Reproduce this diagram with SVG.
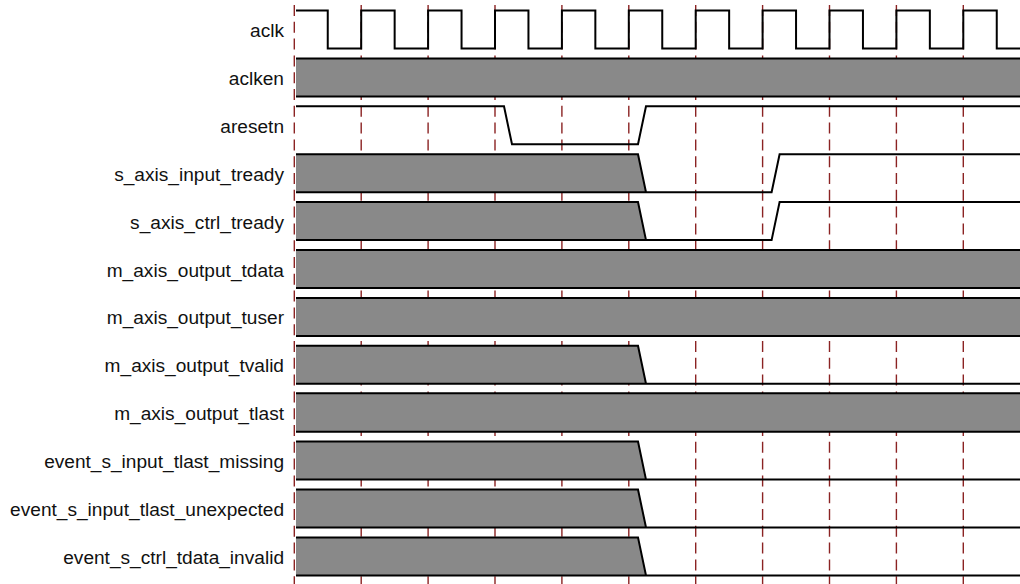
<svg xmlns="http://www.w3.org/2000/svg" width="1020" height="584" viewBox="0 0 1020 584">
<style>
.bg{fill:#ffffff}
.grid line{stroke:#8b2323;stroke-width:1.4;stroke-dasharray:11 5.8}
.lbl{font-family:"Liberation Sans",Arial,Helvetica,sans-serif;font-size:19.1px;fill:#111111;text-anchor:end}
.wave{fill:none;stroke:#000000;stroke-width:2;stroke-linejoin:miter}
.bus{fill:#898989;stroke:none}
</style>
<rect class="bg" x="0" y="0" width="1020" height="584"/>
<g id="grid" class="grid">
<line x1="294.3" y1="5" x2="294.3" y2="584"/>
<line x1="361.2" y1="5" x2="361.2" y2="584"/>
<line x1="428.1" y1="5" x2="428.1" y2="584"/>
<line x1="495" y1="5" x2="495" y2="584"/>
<line x1="561.9" y1="5" x2="561.9" y2="584"/>
<line x1="628.8" y1="5" x2="628.8" y2="584"/>
<line x1="695.7" y1="5" x2="695.7" y2="584"/>
<line x1="762.6" y1="5" x2="762.6" y2="584"/>
<line x1="829.5" y1="5" x2="829.5" y2="584"/>
<line x1="896.4" y1="5" x2="896.4" y2="584"/>
<line x1="963.3" y1="5" x2="963.3" y2="584"/>
</g>
<g id="connectors"></g>
<g id="sig-aclk">
<text class="lbl" x="284" y="37">aclk</text>
<path class="wave" d="M296,10.5 H327.75 V48.5 H361.2 V10.5 H394.65 V48.5 H428.1 V10.5 H461.55 V48.5 H495 V10.5 H528.45 V48.5 H561.9 V10.5 H595.35 V48.5 H628.8 V10.5 H662.25 V48.5 H695.7 V10.5 H729.15 V48.5 H762.6 V10.5 H796.05 V48.5 H829.5 V10.5 H862.95 V48.5 H896.4 V10.5 H929.85 V48.5 H963.3 V10.5 H996.75 V48.5 H1020"/>
</g>
<g id="sig-aclken">
<text class="lbl" x="284" y="84.9">aclken</text>
<rect class="bus" x="296" y="58.4" width="724" height="38"/>
<path class="wave" d="M296,58.4 H1020 M296,96.4 H1020"/>
</g>
<g id="sig-aresetn">
<text class="lbl" x="284" y="132.8">aresetn</text>
<path class="wave" d="M296,106.3 H504 L512,144.3 H638 L646,106.3 H1020"/>
</g>
<g id="sig-s_axis_input_tready">
<text class="lbl" x="284" y="180.7">s_axis_input_tready</text>
<path class="bus" d="M296,154.2 H638 L646,192.2 H296 Z"/>
<path class="wave" d="M296,154.2 H638 L646,192.2 H771.6 L779.6,154.2 H1020 M296,192.2 H646"/>
</g>
<g id="sig-s_axis_ctrl_tready">
<text class="lbl" x="284" y="228.6">s_axis_ctrl_tready</text>
<path class="bus" d="M296,202.1 H638 L646,240.1 H296 Z"/>
<path class="wave" d="M296,202.1 H638 L646,240.1 H771.6 L779.6,202.1 H1020 M296,240.1 H646"/>
</g>
<g id="sig-m_axis_output_tdata">
<text class="lbl" x="284" y="276.5">m_axis_output_tdata</text>
<rect class="bus" x="296" y="250" width="724" height="38"/>
<path class="wave" d="M296,250 H1020 M296,288 H1020"/>
</g>
<g id="sig-m_axis_output_tuser">
<text class="lbl" x="284" y="324.4">m_axis_output_tuser</text>
<rect class="bus" x="296" y="297.9" width="724" height="38"/>
<path class="wave" d="M296,297.9 H1020 M296,335.9 H1020"/>
</g>
<g id="sig-m_axis_output_tvalid">
<text class="lbl" x="284" y="372.3">m_axis_output_tvalid</text>
<path class="bus" d="M296,345.8 H638 L646,383.8 H296 Z"/>
<path class="wave" d="M296,345.8 H638 L646,383.8 H1020 M296,383.8 H646"/>
</g>
<g id="sig-m_axis_output_tlast">
<text class="lbl" x="284" y="420.2">m_axis_output_tlast</text>
<rect class="bus" x="296" y="393.2" width="724" height="38.5"/>
<path class="wave" d="M296,393.2 H1020 M296,431.7 H1020"/>
</g>
<g id="sig-event_s_input_tlast_missing">
<text class="lbl" x="284" y="468.1">event_s_input_tlast_missing</text>
<path class="bus" d="M296,441.6 H638 L646,479.6 H296 Z"/>
<path class="wave" d="M296,441.6 H638 L646,479.6 H1020 M296,479.6 H646"/>
</g>
<g id="sig-event_s_input_tlast_unexpected">
<text class="lbl" x="284" y="516">event_s_input_tlast_unexpected</text>
<path class="bus" d="M296,489.5 H638 L646,527.5 H296 Z"/>
<path class="wave" d="M296,489.5 H638 L646,527.5 H1020 M296,527.5 H646"/>
</g>
<g id="sig-event_s_ctrl_tdata_invalid">
<text class="lbl" x="284" y="563.9">event_s_ctrl_tdata_invalid</text>
<path class="bus" d="M296,537.4 H638 L646,575.4 H296 Z"/>
<path class="wave" d="M296,537.4 H638 L646,575.4 H1020 M296,575.4 H646"/>
</g>
</svg>
